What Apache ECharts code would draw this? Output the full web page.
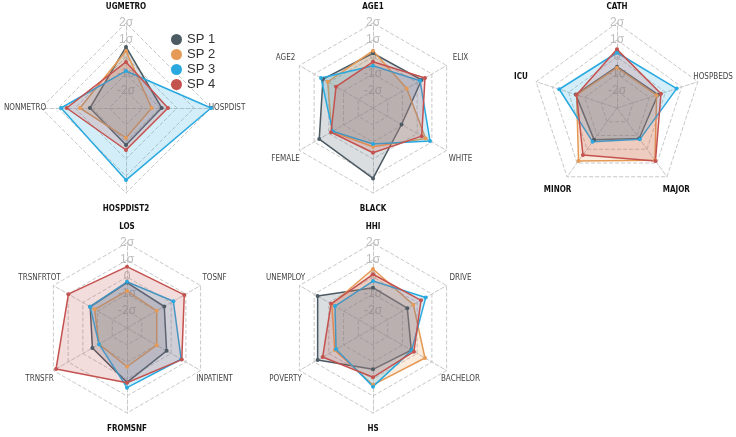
<!DOCTYPE html>
<html><head><meta charset="utf-8">
<script src="https://cdn.jsdelivr.net/npm/echarts@6/dist/echarts.min.js"></script>
<style>html,body{margin:0;padding:0;background:#fff}#c{width:736px;height:437px}</style>
</head><body><div id="c"></div>
<script>
// Series names and colours
const seriesNames = ['SP 1', 'SP 2', 'SP 3', 'SP 4'];
const seriesColors = ['#4c5a63', '#e59a55', '#29a9df', '#c4524f'];
// Ring tick labels (value -> text); scale min -3 maps to centre
const tickValues = [-3, -2, -1, 0, 1, 2];
const tickLabels = ['', '-2σ', '-1σ', '0', '1σ', '2σ'];

// Radar 1 (axes listed clockwise from top)
const axes1 = ['UGMETRO', 'HOSPDIST', 'HOSPDIST2', 'NONMETRO'];
const r1sp1 = [0.59, -0.90, -0.82, -0.88];
const r1sp2 = [0.35, -1.49, -1.24, -0.29];
const r1sp3 = [-0.82, 2.00, 1.24, 0.82];
const r1sp4 = [-0.29, -0.53, -0.53, 0.49];

// Radar 2
const axes2 = ['AGE1', 'ELIX', 'WHITE', 'BLACK', 'FEMALE', 'AGE2'];
const r2sp1 = [0.22, 0.30, -1.06, 1.14, 0.65, 0.40];
const r2sp2 = [0.37, -0.71, 0.58, -0.72, -0.20, 0.08];
const r2sp3 = [-0.51, 0.20, 0.87, -0.88, -0.26, 0.53];
const r2sp4 = [-0.28, 0.53, 0.31, -0.37, -0.15, -0.49];

// Radar 3
const axes3 = ['CATH', 'HOSPBEDS', 'MAJOR', 'MINOR', 'ICU'];
const r3sp1 = [-0.57, -0.47, -0.78, -0.70, -0.45];
const r3sp2 = [-0.63, -0.55, 0.80, 0.85, -0.50];
const r3sp3 = [0.25, 0.69, -0.72, -0.55, 0.57];
const r3sp4 = [0.45, -0.28, 0.85, 0.41, -0.50];

// Radar 4
const axes4 = ['LOS', 'TOSNF', 'INPATIENT', 'FROMSNF', 'TRNSFR', 'TRSNFRTOT'];
const r4sp1 = [-0.33, -0.47, -0.31, 0.20, -0.65, -0.50];
const r4sp2 = [-0.82, -0.98, -0.98, -0.72, -1.10, -0.80];
const r4sp3 = [-0.28, 0.15, 0.68, 0.51, -1.10, -0.49];
const r4sp4 = [0.61, 0.89, 0.72, 0.22, 1.82, 0.98];

// Radar 5
const axes5 = ['HHI', 'DRIVE', 'BACHELOR', 'HS', 'POVERTY', 'UNEMPLOY'];
const r5sp1 = [-0.63, -0.67, -0.40, -0.57, 0.76, 0.76];
const r5sp2 = [0.47, -0.26, 0.53, 0.35, -0.40, -0.20];
const r5sp3 = [-0.24, 0.58, -0.37, 0.45, -0.49, -0.42];
const r5sp4 = [0.16, 0.26, -0.22, -0.10, 0.42, -0.15];

const boldAxes = ['UGMETRO', 'HOSPDIST2', 'AGE1', 'BLACK', 'CATH', 'MAJOR', 'MINOR', 'ICU', 'LOS', 'FROMSNF', 'HHI', 'HS'];

const panels = [
  {axes: axes1, vals: [r1sp1, r1sp2, r1sp3, r1sp4], center: [126, 108]},
  {axes: axes2, vals: [r2sp1, r2sp2, r2sp3, r2sp4], center: [373, 108]},
  {axes: axes3, vals: [r3sp1, r3sp2, r3sp3, r3sp4], center: [617, 108]},
  {axes: axes4, vals: [r4sp1, r4sp2, r4sp3, r4sp4], center: [127, 328]},
  {axes: axes5, vals: [r5sp1, r5sp2, r5sp3, r5sp4], center: [373, 328]}
];

// ECharts places indicators counter-clockwise; reorder clockwise lists
function ccw(arr) { return [arr[0]].concat(arr.slice(1).reverse()); }

const nameFont = "'DejaVu Sans Condensed', 'Liberation Sans Narrow', 'Liberation Sans', sans-serif";

const radars = panels.map(function (p) {
  return {
    center: p.center,
    radius: 85,
    startAngle: 90,
    splitNumber: 5,
    shape: 'polygon',
    nameGap: 16,
    indicator: ccw(p.axes).map(function (a, i) {
      const ind = {name: a, min: -3, max: 2};
      if (i === 0) ind.axisLabel = {show: true};
      return ind;
    }),
    axisName: {
      align: 'center',
      verticalAlign: 'middle',
      formatter: function (v) { return boldAxes.indexOf(v) >= 0 ? '{b|' + v + '}' : '{n|' + v + '}'; },
      rich: {
        b: {fontSize: 8, fontWeight: 'bold', color: '#111', fontFamily: nameFont, align: 'center'},
        n: {fontSize: 8, color: '#444', fontFamily: nameFont, align: 'center'}
      }
    },
    axisLine: {lineStyle: {color: '#c8c8c8', type: 'dashed', width: 1}},
    splitLine: {lineStyle: {color: '#c8c8c8', type: 'dashed', width: 1}},
    splitArea: {show: false},
    axisTick: {show: false},
    axisLabel: {
      show: false,
      margin: 0,
      align: 'center',
      verticalAlign: 'middle',
      color: '#bdbdbd',
      fontSize: 12,
      fontFamily: 'Liberation Sans',
      formatter: function (v) { const k = tickValues.indexOf(Math.round(v)); return k >= 0 ? tickLabels[k] : ''; }
    }
  };
});

const series = panels.map(function (p, ri) {
  return {
    type: 'radar',
    radarIndex: ri,
    symbol: 'circle',
    symbolSize: 4,
    data: p.vals.map(function (v, si) {
      return {
        name: seriesNames[si],
        value: ccw(v),
        itemStyle: {color: seriesColors[si]},
        lineStyle: {color: seriesColors[si], width: 1.5},
        areaStyle: {color: seriesColors[si], opacity: 0.2}
      };
    })
  };
});

const chart = echarts.init(document.getElementById('c'), null, {renderer: 'canvas'});
chart.setOption({
  animation: false,
  backgroundColor: '#fff',
  legend: {
    data: seriesNames,
    orient: 'vertical',
    left: 166,
    top: 28,
    icon: 'circle',
    itemWidth: 11,
    itemHeight: 11,
    itemGap: 2,
    textStyle: {fontSize: 13, color: '#333', fontFamily: 'Liberation Sans'}
  },
  radar: radars,
  series: series
});
</script></body></html>
